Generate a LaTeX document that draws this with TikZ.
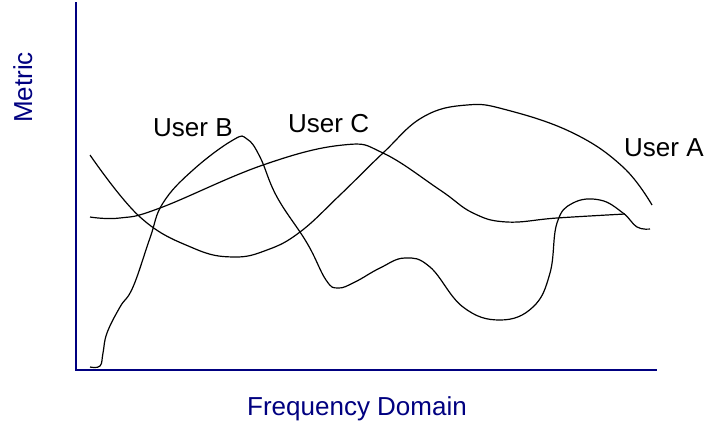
\documentclass[tikz,border=0pt]{standalone}
\usepackage{fontspec}
\setmainfont{Liberation Sans}
\definecolor{axisblue}{RGB}{0,0,128}
\tikzset{
  axisline/.style={draw=axisblue,line width=1.5pt},
  curveline/.style={draw=black,line width=1.2pt,smooth,tension=0.7},
  userlabel/.style={anchor=base west,inner sep=0pt,font=\fontsize{26}{30}\selectfont,text=black},
  axislabel/.style={inner sep=0pt,font=\fontsize{26}{30}\selectfont,text=axisblue}
}
\begin{document}
\begin{tikzpicture}[x=1pt,y=-1pt]
\useasboundingbox (0,0) rectangle (705,426);
% axes
\coordinate (ytop) at (76,2);
\coordinate (orig) at (76,370);
\coordinate (xend) at (657,370);
\draw[axisline] (ytop) -- (orig) -- (xend);
% User A
\draw[curveline] plot coordinates {(90,155) (140,217) (193,248) (233,257) (267,250) (300,232) (340,195) (383,153) (423,117) (467,105) (507,110) (573,133) (623,167) (652,205)};
% User C
\draw[curveline] plot coordinates {(90,217) (120,218) (160,208) (263,165) (343,145) (383,153) (440,190) (473,213) (507,222) (557,218) (625,214)};
% User B
\draw[curveline] plot coordinates {(90,367) (100,366) (103,353) (107,333) (120,307) (133,287) (150,238) (163,203) (193,170) (233,140) (247,139) (260,157) (277,197) (307,243) (326,280) (338,288) (355,282) (380,268) (405,258) (430,267) (463,307) (500,320) (533,307) (550,273) (557,223) (573,203) (600,200) (623,213) (637,227) (650,229)};
% labels
\node[userlabel] (lb) at (153,136) {User B};
\node[userlabel] (lc) at (288,132) {User C};
\node[userlabel] (la) at (624,156) {User A};
\node[axislabel,anchor=base west] (lx) at (247,415) {Frequency Domain};
\node[axislabel,anchor=base west,rotate=90] (ly) at (32,123) {Metric};
\end{tikzpicture}
\end{document}
